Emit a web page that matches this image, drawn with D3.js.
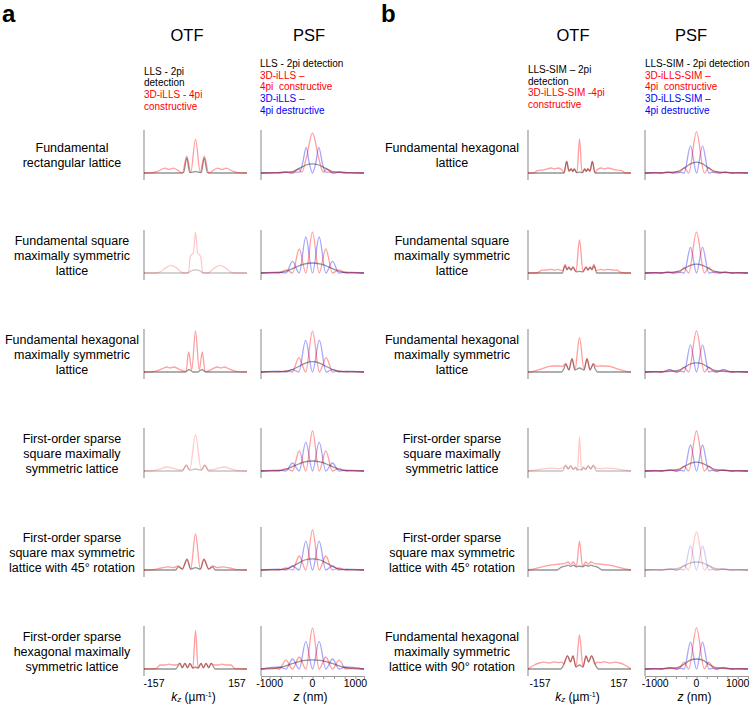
<!DOCTYPE html>
<html><head><meta charset="utf-8">
<script src="https://cdn.jsdelivr.net/npm/d3@7"></script>
<style>body{margin:0;background:#fff}svg{display:block}text{font-family:"Liberation Sans",Arial,sans-serif;fill:#000;white-space:pre}</style>
</head><body><svg id="c" width="750" height="704"></svg>
<script>
// ---------------- DATA ----------------
const panels = ["a", "b"];
const rowLabelsA = [
  ["Fundamental", "rectangular lattice"],
  ["Fundamental square", "maximally symmetric", "lattice"],
  ["Fundamental hexagonal", "maximally symmetric", "lattice"],
  ["First-order sparse", "square maximally", "symmetric lattice"],
  ["First-order sparse", "square max symmetric", "lattice with 45° rotation"],
  ["First-order sparse", "hexagonal maximally", "symmetric lattice"]
];
const rowLabelsB = [
  ["Fundamental hexagonal", "lattice"],
  ["Fundamental square", "maximally symmetric", "lattice"],
  ["Fundamental hexagonal", "maximally symmetric", "lattice"],
  ["First-order sparse", "square maximally", "symmetric lattice"],
  ["First-order sparse", "square max symmetric", "lattice with 45° rotation"],
  ["Fundamental hexagonal", "maximally symmetric", "lattice with 90° rotation"]
];
const legendOtfA = [["LLS - 2pi", "black"], ["detection", "black"], ["3D-iLLS - 4pi", "red"], ["constructive", "red"]];
const legendPsfA = [["LLS - 2pi detection", "black"], ["3D-iLLS –", "red"], ["4pi  constructive", "red"], ["3D-iLLS –", "blue"], ["4pi destructive", "blue"]];
const legendOtfB = [["LLS-SIM – 2pi", "black"], ["detection", "black"], ["3D-iLLS-SIM -4pi", "red"], ["constructive", "red"]];
const legendPsfB = [["LLS-SIM - 2pi detection", "black"], ["3D-iLLS-SIM –", "red"], ["4pi  constructive", "red"], ["3D-iLLS-SIM –", "blue"], ["4pi destructive", "blue"]];
const otfTicks = [-157, 157];
const psfTicks = [-1000, 0, 1000];
const psfMinorTicks = [-1000, -750, -500, -250, 0, 250, 500, 750, 1000];

// OTF curves: [kz (µm^-1), normalized intensity]
const a1_otf_red = [[-195,0],[-160,0.01],[-140,0.05],[-115,0.12],[-100,0.09],[-84,0.12],[-65,0.06],[-50,0],[-33,0.42],[-18,0.02],[0,0.84],[18,0.02],[33,0.42],[50,0],[65,0.06],[84,0.12],[100,0.09],[115,0.12],[140,0.05],[160,0.01],[195,0]];
const a1_otf_black = [[-195,0],[-60,0],[-45,0.01],[-33,0.38],[-22,0.01],[-10,0.02],[0,0.04],[10,0.02],[22,0.01],[33,0.38],[45,0.01],[60,0],[195,0]];
const a2_otf_red = [[-195,0],[-150,0],[-135,0.02],[-110,0.14],[-94,0.19],[-75,0.14],[-55,0.03],[-45,0],[-27,0.01],[-20,0.4],[-14,0.46],[-8,0.5],[0,1.03],[8,0.5],[14,0.46],[20,0.4],[27,0.01],[45,0],[55,0.03],[75,0.14],[94,0.19],[110,0.14],[135,0.02],[150,0],[195,0]];
const a2_otf_black = [[-195,0],[-30,0],[-18,0.05],[0,0.08],[18,0.05],[30,0],[195,0]];
const a3_otf_red = [[-195,0],[-160,0.01],[-141,0.04],[-120,0.1],[-109,0.125],[-96,0.1],[-84,0.125],[-65,0.08],[-46,0.02],[-36,0.01],[-26,0.5],[-14,0.06],[0,1.03],[14,0.06],[26,0.5],[36,0.01],[46,0.02],[65,0.08],[84,0.125],[96,0.1],[109,0.125],[120,0.1],[141,0.04],[160,0.01],[195,0]];
const a3_otf_black = [[-195,0],[-40,0],[-30,0.04],[-26,0.06],[-18,0.04],[-10,0],[10,0],[18,0.04],[26,0.06],[30,0.04],[40,0],[195,0]];
const a4_otf_red = [[-195,0],[-160,0.01],[-130,0.06],[-110,0.1],[-90,0.08],[-70,0.04],[-50,0.02],[-35,0.15],[-22,0.03],[0,0.9],[22,0.03],[35,0.15],[50,0.02],[70,0.04],[90,0.08],[110,0.1],[130,0.06],[160,0.01],[195,0]];
const a4_otf_black = [[-195,0],[-50,0],[-35,0.14],[-22,0.02],[0,0.05],[22,0.02],[35,0.14],[50,0],[195,0]];
const a5_otf_red = [[-195,0],[-160,0.01],[-130,0.05],[-105,0.08],[-85,0.06],[-65,0.1],[-50,0.03],[-32,0.28],[-18,0.03],[0,0.9],[18,0.03],[32,0.28],[50,0.03],[65,0.1],[85,0.06],[105,0.08],[130,0.05],[160,0.01],[195,0]];
const a5_otf_black = [[-195,0],[-75,0],[-65,0.08],[-50,0.02],[-32,0.26],[-18,0.02],[0,0.06],[18,0.02],[32,0.26],[50,0.02],[65,0.08],[75,0],[195,0]];
const a6_otf_red = [[-195,0],[-150,0.01],[-134,0.1],[-115,0.1],[-100,0.12],[-85,0.1],[-71,0.1],[-59,0.14],[-50,0.04],[-40,0.14],[-30,0.04],[-21,0.14],[-10,0.02],[0,0.96],[10,0.02],[21,0.14],[30,0.04],[40,0.14],[50,0.04],[59,0.14],[71,0.1],[85,0.1],[100,0.12],[115,0.1],[134,0.1],[150,0.01],[195,0]];
const a6_otf_black = [[-195,0],[-75,0],[-59,0.14],[-50,0.03],[-40,0.14],[-30,0.03],[-21,0.14],[-10,0.02],[0,0.05],[10,0.02],[21,0.14],[30,0.03],[40,0.14],[50,0.03],[59,0.14],[75,0],[195,0]];
const b1_otf_red = [[-205,0],[-182,0],[-168,0.06],[-140,0.08],[-112,0.125],[-100,0.1],[-86,0.125],[-70,0.08],[-61,0.01],[-51,0.29],[-42,0.05],[-33,0.1],[-27,0.04],[-21,0.1],[-10,0.01],[0,0.85],[10,0.01],[21,0.1],[27,0.04],[33,0.1],[42,0.05],[51,0.29],[61,0.01],[70,0.08],[86,0.125],[100,0.1],[112,0.125],[140,0.08],[168,0.06],[182,0],[205,0]];
const b1_otf_black = [[-205,0],[-62,0],[-51,0.29],[-42,0.05],[-33,0.1],[-27,0.04],[-21,0.1],[-12,0.01],[0,0.02],[12,0.01],[21,0.1],[27,0.04],[33,0.1],[42,0.05],[51,0.29],[62,0],[205,0]];
const b2_otf_red = [[-205,0],[-180,0],[-160,0.03],[-150,0.07],[-130,0.075],[-110,0.09],[-95,0.07],[-86,0.09],[-67,0.06],[-57,0.22],[-50,0.1],[-42,0.15],[-34,0.08],[-26,0.16],[-14,0.04],[0,0.83],[14,0.04],[26,0.16],[34,0.08],[42,0.15],[50,0.1],[57,0.22],[67,0.06],[86,0.09],[95,0.07],[110,0.09],[130,0.075],[150,0.07],[160,0.03],[180,0],[205,0]];
const b2_otf_black = [[-205,0],[-68,0],[-62,0.12],[-57,0.18],[-50,0.08],[-42,0.14],[-34,0.07],[-26,0.14],[-14,0.03],[0,0.04],[14,0.03],[26,0.14],[34,0.07],[42,0.14],[50,0.08],[57,0.18],[62,0.12],[68,0],[205,0]];
const b3_otf_red = [[-205,0],[-190,0.01],[-150,0.08],[-120,0.14],[-99,0.15],[-80,0.15],[-67,0.14],[-55,0.21],[-42,0.06],[-30,0.34],[-18,0.06],[0,0.86],[18,0.06],[30,0.34],[42,0.06],[55,0.21],[67,0.14],[80,0.15],[99,0.15],[120,0.14],[150,0.08],[190,0.01],[205,0]];
const b3_otf_black = [[-205,0],[-72,0],[-62,0.08],[-55,0.2],[-42,0.05],[-30,0.33],[-18,0.05],[0,0.1],[18,0.05],[30,0.33],[42,0.05],[55,0.2],[62,0.08],[72,0],[205,0]];
const b4_otf_red = [[-205,0],[-175,0.02],[-140,0.06],[-110,0.07],[-85,0.06],[-65,0.08],[-55,0.15],[-45,0.06],[-35,0.14],[-25,0.05],[-15,0.1],[-8,0.02],[0,0.85],[8,0.02],[15,0.1],[25,0.05],[35,0.14],[45,0.06],[55,0.15],[65,0.08],[85,0.06],[110,0.07],[140,0.06],[175,0.02],[205,0]];
const b4_otf_black = [[-205,0],[-68,0],[-55,0.13],[-45,0.05],[-35,0.12],[-25,0.04],[-15,0.08],[-8,0.02],[0,0.04],[8,0.02],[15,0.08],[25,0.04],[35,0.12],[45,0.05],[55,0.13],[68,0],[205,0]];
const b5_otf_red = [[-205,0],[-185,0.02],[-150,0.08],[-110,0.13],[-80,0.15],[-60,0.16],[-45,0.2],[-35,0.14],[-25,0.2],[-12,0.1],[0,0.72],[12,0.1],[25,0.2],[35,0.14],[45,0.2],[60,0.16],[80,0.15],[110,0.13],[150,0.08],[185,0.02],[205,0]];
const b5_otf_black = [[-205,0],[-90,0],[-75,0.06],[-55,0.1],[-45,0.12],[-35,0.09],[-25,0.12],[-12,0.08],[0,0.1],[12,0.08],[25,0.12],[35,0.09],[45,0.12],[55,0.1],[75,0.06],[90,0],[205,0]];
const b6_otf_red = [[-205,0],[-180,0.1],[-160,0.15],[-140,0.17],[-120,0.15],[-100,0.18],[-85,0.16],[-70,0.17],[-62,0.12],[-48,0.33],[-36,0.18],[-26,0.33],[-14,0.05],[0,0.85],[14,0.05],[26,0.33],[36,0.18],[48,0.33],[62,0.12],[70,0.17],[85,0.16],[100,0.18],[120,0.15],[140,0.17],[160,0.15],[180,0.1],[205,0]];
const b6_otf_black = [[-205,0],[-75,0],[-65,0.08],[-48,0.33],[-36,0.18],[-26,0.33],[-14,0.05],[0,0.1],[14,0.05],[26,0.33],[36,0.18],[48,0.33],[65,0.08],[75,0],[205,0]];

// PSF curves: [z (nm), normalized intensity]
const a1_psf_red = [[-1200,0],[-900,0.01],[-750,0],[-620,0.03],[-470,0],[-330,0.1],[-250,0.02],[-150,0.35],[0,1.0],[150,0.35],[250,0.02],[330,0.1],[470,0],[620,0.03],[750,0],[900,0.01],[1200,0]];
const a1_psf_blue = [[-1200,0],[-800,0.01],[-650,0.03],[-500,0],[-400,0.02],[-300,0.02],[-230,0.25],[-146,0.64],[-70,0.22],[0,0],[70,0.22],[146,0.64],[230,0.25],[300,0.02],[400,0.02],[500,0],[650,0.03],[800,0.01],[1200,0]];
const a1_psf_black = [[-1200,0],[-700,0.01],[-450,0.04],[-300,0.12],[-150,0.2],[0,0.23],[150,0.2],[300,0.12],[450,0.04],[700,0.01],[1200,0]];
const a2_psf_red = [[-1200,0],[-930,0.01],[-775,0],[-620,0.08],[-465,0],[-310,0.6],[-155,0],[0,1.02],[155,0],[310,0.6],[465,0],[620,0.08],[775,0],[930,0.01],[1200,0]];
const a2_psf_blue = [[-1200,0],[-775,0.02],[-620,0],[-465,0.29],[-310,0],[-155,0.9],[0,0],[155,0.9],[310,0],[465,0.29],[620,0],[775,0.02],[1200,0]];
const a2_psf_black = [[-1200,0],[-800,0.01],[-600,0.05],[-400,0.14],[-200,0.22],[0,0.25],[200,0.22],[400,0.14],[600,0.05],[800,0.01],[1200,0]];
const a3_psf_red = [[-1200,0],[-930,0.01],[-780,0],[-620,0.03],[-470,0],[-318,0.36],[-160,0],[0,1.02],[160,0],[318,0.36],[470,0],[620,0.03],[780,0],[930,0.01],[1200,0]];
const a3_psf_blue = [[-1200,0],[-780,0.02],[-630,0],[-470,0.06],[-318,0],[-160,0.79],[0,0],[160,0.79],[318,0],[470,0.06],[630,0],[780,0.02],[1200,0]];
const a3_psf_black = [[-1200,0],[-700,0.01],[-500,0.05],[-300,0.15],[-150,0.23],[0,0.26],[150,0.23],[300,0.15],[500,0.05],[700,0.01],[1200,0]];
const a4_psf_red = [[-1200,0],[-930,0.01],[-775,0],[-620,0.06],[-465,0],[-310,0.5],[-155,0],[0,1.0],[155,0],[310,0.5],[465,0],[620,0.06],[775,0],[930,0.01],[1200,0]];
const a4_psf_blue = [[-1200,0],[-775,0.02],[-620,0],[-465,0.2],[-310,0],[-155,0.72],[0,0],[155,0.72],[310,0],[465,0.2],[620,0],[775,0.02],[1200,0]];
const a4_psf_black = [[-1200,0],[-800,0.01],[-600,0.05],[-400,0.14],[-200,0.22],[0,0.25],[200,0.22],[400,0.14],[600,0.05],[800,0.01],[1200,0]];
const a5_psf_red = [[-1200,0],[-930,0.01],[-775,0],[-620,0.05],[-465,0],[-310,0.35],[-155,0],[0,1.0],[155,0],[310,0.35],[465,0],[620,0.05],[775,0],[930,0.01],[1200,0]];
const a5_psf_blue = [[-1200,0],[-775,0.02],[-620,0],[-465,0.1],[-310,0],[-155,0.72],[0,0],[155,0.72],[310,0],[465,0.1],[620,0],[775,0.02],[1200,0]];
const a5_psf_black = [[-1200,0],[-750,0.01],[-550,0.05],[-350,0.16],[-180,0.25],[0,0.28],[180,0.25],[350,0.16],[550,0.05],[750,0.01],[1200,0]];
const a6_psf_red = [[-1200,0],[-930,0.03],[-775,0],[-620,0.22],[-465,0],[-310,0.3],[-155,0],[0,1.02],[155,0],[310,0.3],[465,0],[620,0.22],[775,0],[930,0.03],[1200,0]];
const a6_psf_blue = [[-1200,0],[-775,0.05],[-620,0],[-465,0.25],[-310,0],[-155,0.69],[0,0],[155,0.69],[310,0],[465,0.25],[620,0],[775,0.05],[1200,0]];
const a6_psf_black = [[-1200,0],[-900,0.01],[-700,0.05],[-450,0.14],[-220,0.21],[0,0.23],[220,0.21],[450,0.14],[700,0.05],[900,0.01],[1200,0]];
const b1_psf_red = [[-1250,0],[-1000,0.01],[-850,0],[-700,0.02],[-550,0],[-420,0.01],[-300,0.14],[-190,0],[0,1.03],[190,0],[300,0.14],[420,0.01],[550,0],[700,0.02],[850,0],[1000,0.01],[1250,0]];
const b1_psf_blue = [[-1250,0],[-1000,0.01],[-850,0],[-700,0.03],[-580,0],[-450,0.03],[-300,0],[-146,0.68],[0,0],[146,0.68],[300,0],[450,0.03],[580,0],[700,0.03],[850,0],[1000,0.01],[1250,0]];
const b1_psf_black = [[-1250,0],[-700,0.01],[-450,0.04],[-300,0.12],[-150,0.23],[0,0.27],[150,0.23],[300,0.12],[450,0.04],[700,0.01],[1250,0]];
const b2_psf_red = [[-1250,0],[-1000,0.01],[-850,0],[-700,0.02],[-550,0],[-420,0.01],[-300,0.14],[-190,0],[0,1.02],[190,0],[300,0.14],[420,0.01],[550,0],[700,0.02],[850,0],[1000,0.01],[1250,0]];
const b2_psf_blue = [[-1250,0],[-1000,0.01],[-850,0],[-700,0.03],[-580,0],[-450,0.03],[-300,0],[-146,0.64],[0,0],[146,0.64],[300,0],[450,0.03],[580,0],[700,0.03],[850,0],[1000,0.01],[1250,0]];
const b2_psf_black = [[-1250,0],[-700,0.01],[-450,0.04],[-300,0.11],[-150,0.19],[0,0.22],[150,0.19],[300,0.11],[450,0.04],[700,0.01],[1250,0]];
const b3_psf_red = [[-1250,0],[-1000,0.01],[-850,0],[-650,0.06],[-500,0],[-420,0.01],[-300,0.12],[-190,0],[0,1.03],[190,0],[300,0.12],[420,0.01],[500,0],[650,0.06],[850,0],[1000,0.01],[1250,0]];
const b3_psf_blue = [[-1250,0],[-1000,0.01],[-850,0],[-650,0.05],[-480,0],[-400,0.03],[-300,0],[-146,0.68],[0,0],[146,0.68],[300,0],[400,0.03],[480,0],[650,0.05],[850,0],[1000,0.01],[1250,0]];
const b3_psf_black = [[-1250,0],[-700,0.01],[-450,0.04],[-300,0.11],[-150,0.2],[0,0.23],[150,0.2],[300,0.11],[450,0.04],[700,0.01],[1250,0]];
const b4_psf_red = [[-1250,0],[-1000,0.01],[-850,0],[-650,0.03],[-500,0],[-420,0.01],[-300,0.12],[-190,0],[0,1.0],[190,0],[300,0.12],[420,0.01],[500,0],[650,0.03],[850,0],[1000,0.01],[1250,0]];
const b4_psf_blue = [[-1250,0],[-1000,0.01],[-850,0],[-650,0.03],[-480,0],[-400,0.02],[-300,0],[-146,0.65],[0,0],[146,0.65],[300,0],[400,0.02],[480,0],[650,0.03],[850,0],[1000,0.01],[1250,0]];
const b4_psf_black = [[-1250,0],[-700,0.01],[-450,0.04],[-300,0.11],[-150,0.19],[0,0.22],[150,0.19],[300,0.11],[450,0.04],[700,0.01],[1250,0]];
const b5_psf_red = [[-1250,0],[-1000,0.01],[-850,0],[-650,0.03],[-500,0],[-420,0.01],[-300,0.12],[-190,0],[0,0.95],[190,0],[300,0.12],[420,0.01],[500,0],[650,0.03],[850,0],[1000,0.01],[1250,0]];
const b5_psf_blue = [[-1250,0],[-1000,0.01],[-850,0],[-650,0.03],[-480,0],[-400,0.02],[-300,0],[-146,0.6],[0,0],[146,0.6],[300,0],[400,0.02],[480,0],[650,0.03],[850,0],[1000,0.01],[1250,0]];
const b5_psf_black = [[-1250,0],[-700,0.01],[-450,0.04],[-300,0.1],[-150,0.18],[0,0.2],[150,0.18],[300,0.1],[450,0.04],[700,0.01],[1250,0]];
const b6_psf_red = [[-1250,0],[-1000,0.01],[-850,0],[-650,0.03],[-500,0],[-420,0.01],[-300,0.17],[-190,0],[0,1.03],[190,0],[300,0.17],[420,0.01],[500,0],[650,0.03],[850,0],[1000,0.01],[1250,0]];
const b6_psf_blue = [[-1250,0],[-1000,0.01],[-850,0],[-650,0.04],[-480,0],[-400,0.02],[-300,0],[-146,0.67],[0,0],[146,0.67],[300,0],[400,0.02],[480,0],[650,0.04],[850,0],[1000,0.01],[1250,0]];
const b6_psf_black = [[-1250,0],[-700,0.01],[-450,0.04],[-300,0.12],[-150,0.22],[0,0.25],[150,0.22],[300,0.12],[450,0.04],[700,0.01],[1250,0]];

// ---------------- LAYOUT / STYLE ----------------
const W = 750, H = 704;
const rowTops = [130, 230, 329, 428, 527, 626];
const plotH = 50;
const cols = {
  a: { otf: [144, 247], psf: [261, 364], otfDom: [-195, 195], psfDom: [-1200, 1200], labelX: 72 },
  b: { otf: [528, 631], psf: [645, 748], otfDom: [-205, 205], psfDom: [-1250, 1250], labelX: 452 }
};
const colorMap = { black: "#000000", red: "#ff0000", blue: "#0000ff" };
const lineOpacity = { red: 0.38, black: 0.42, blue: 0.35 };
const paleSet = new Set(["a2_otf", "a4_otf", "b4_otf", "b5_psf"]);

const svg = d3.select("#c");
svg.append("rect").attr("width", W).attr("height", H).attr("fill", "#fff");

const src = {
  a1_otf_red, a1_otf_black, a2_otf_red, a2_otf_black, a3_otf_red, a3_otf_black, a4_otf_red, a4_otf_black,
  a5_otf_red, a5_otf_black, a6_otf_red, a6_otf_black, b1_otf_red, b1_otf_black, b2_otf_red, b2_otf_black,
  b3_otf_red, b3_otf_black, b4_otf_red, b4_otf_black, b5_otf_red, b5_otf_black, b6_otf_red, b6_otf_black,
  a1_psf_red, a1_psf_blue, a1_psf_black, a2_psf_red, a2_psf_blue, a2_psf_black, a3_psf_red, a3_psf_blue, a3_psf_black,
  a4_psf_red, a4_psf_blue, a4_psf_black, a5_psf_red, a5_psf_blue, a5_psf_black, a6_psf_red, a6_psf_blue, a6_psf_black,
  b1_psf_red, b1_psf_blue, b1_psf_black, b2_psf_red, b2_psf_blue, b2_psf_black, b3_psf_red, b3_psf_blue, b3_psf_black,
  b4_psf_red, b4_psf_blue, b4_psf_black, b5_psf_red, b5_psf_blue, b5_psf_black, b6_psf_red, b6_psf_blue, b6_psf_black
};

svg.append("text").attr("x", 2).attr("y", 22).attr("font-size", 24).attr("font-weight", "bold").text("a");
svg.append("text").attr("x", 381).attr("y", 22).attr("font-size", 24).attr("font-weight", "bold").text("b");
[["OTF", 187], ["PSF", 309], ["OTF", 573], ["PSF", 691]].forEach(([t, x]) =>
  svg.append("text").attr("x", x).attr("y", 41).attr("font-size", 16.5).attr("text-anchor", "middle").text(t));

function legend(items, x, y0) {
  items.forEach(([t, c], i) =>
    svg.append("text").attr("x", x).attr("y", y0 + i * 11.7).attr("font-size", 10)
      .attr("xml:space", "preserve")
      .style("fill", colorMap[c]).text(t));
}
legend(legendOtfA, 144, 74.5);
legend(legendPsfA, 260, 67);
legend(legendOtfB, 528, 73);
legend(legendPsfB, 645, 67);

const line = (x, y) => d3.line().x(d => x(d[0])).y(d => y(d[1])).curve(d3.curveMonotoneX);

panels.forEach(p => {
  const labels = p === "a" ? rowLabelsA : rowLabelsB;
  rowTops.forEach((top, r) => {
    const row = r + 1;
    const y = d3.scaleLinear().domain([-0.175, 1.075]).range([top + plotH, top]);
    const lines = labels[r];
    const lh = 15;
    const cy = top + 25;
    lines.forEach((t, i) => {
      svg.append("text").attr("x", cols[p].labelX)
        .attr("y", cy - (lines.length - 1) * lh / 2 + i * lh + 4.5)
        .attr("font-size", 12.5).attr("text-anchor", "middle").text(t);
    });
    ["otf", "psf"].forEach(kind => {
      const [x0, x1] = cols[p][kind];
      const x = d3.scaleLinear().domain(kind === "otf" ? cols[p].otfDom : cols[p].psfDom).range([x0, x1]);
      const g = svg.append("g");
      g.append("line").attr("x1", x0).attr("x2", x0).attr("y1", top).attr("y2", top + plotH)
        .attr("stroke", "#9a9a9a").attr("stroke-width", 1.2);
      const key = `${p}${row}_${kind}`;
      const pale = paleSet.has(key);
      const order = kind === "otf" ? ["black", "red"] : ["black", "blue", "red"];
      order.forEach(c => {
        const data = src[`${key}_${c}`];
        if (!data) return;
        g.append("path").attr("d", line(x, y)(data)).attr("fill", "none")
          .attr("stroke", colorMap[c]).attr("stroke-width", 1.3)
          .attr("stroke-opacity", pale ? lineOpacity[c] * 0.55 : lineOpacity[c]);
      });
      if (row === 6) {
        const ax = svg.append("g").attr("transform", `translate(0,${top + plotH})`);
        if (kind === "psf") {
          ax.call(d3.axisBottom(x).tickValues(psfMinorTicks).tickSize(3).tickFormat(""))
            .call(s => s.selectAll("path,line").attr("stroke", "#9a9a9a"));
          psfTicks.forEach(v => ax.append("text").attr("x", x(v)).attr("y", 11)
            .attr("font-size", 10.5).attr("text-anchor", "middle").text(v));
          const t = svg.append("text").attr("x", (x0 + x1) / 2 - 2).attr("y", top + plotH + 24.5)
            .attr("font-size", 12).attr("text-anchor", "middle");
          t.append("tspan").attr("font-style", "italic").text("z");
          t.append("tspan").text(" (nm)");
        } else {
          otfTicks.forEach(v => ax.append("text").attr("x", x(v)).attr("y", 11)
            .attr("font-size", 10.5).attr("text-anchor", "middle").text(v));
          const t = svg.append("text").attr("x", (x0 + x1) / 2 - 2).attr("y", top + plotH + 24.5)
            .attr("font-size", 12).attr("text-anchor", "middle");
          t.append("tspan").attr("font-style", "italic").text("k");
          t.append("tspan").attr("font-style", "italic").attr("font-size", 8).attr("dy", 1.5).text("z");
          t.append("tspan").attr("dy", -1.5).text(" (µm");
          t.append("tspan").attr("font-size", 7).attr("dy", -4).text("-1");
          t.append("tspan").attr("dy", 4).text(")");
        }
      }
    });
  });
});
</script></body></html>
